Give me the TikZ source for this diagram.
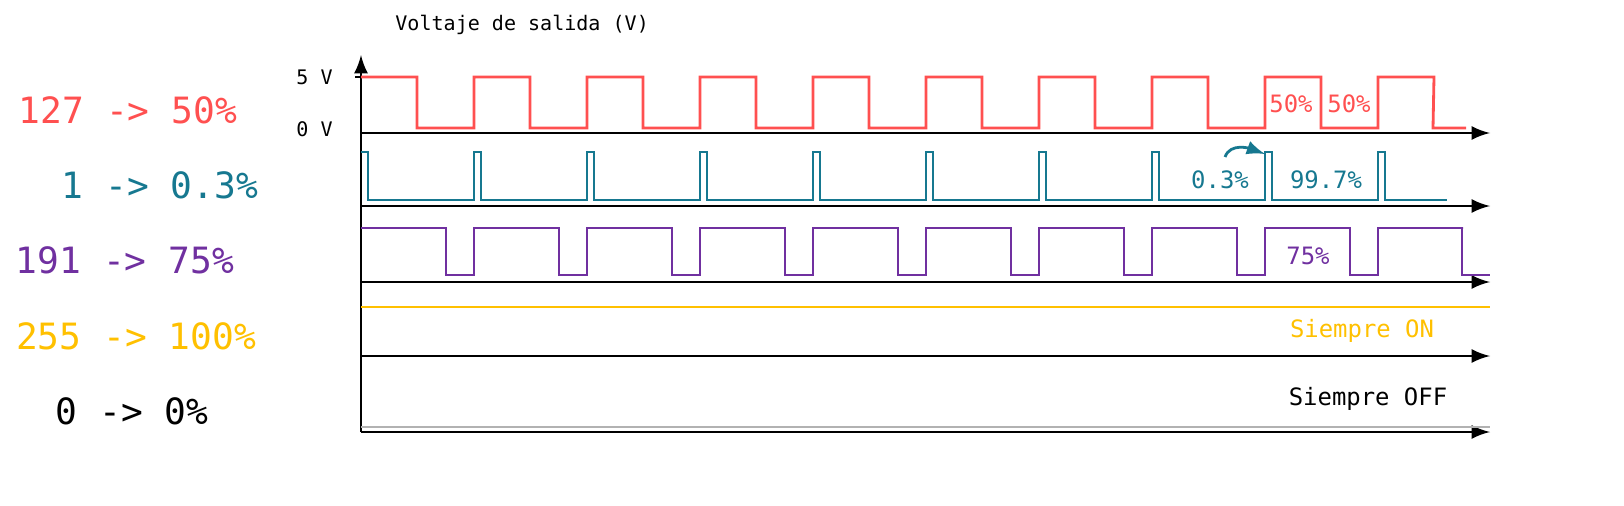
\documentclass[tikz,border=0pt]{standalone}
\usepackage{fontspec}
\setmainfont{DejaVu Sans Mono}
\usepackage{tikz}
\definecolor{pwmred}{HTML}{FF5050}
\definecolor{pwmblue}{HTML}{167890}
\definecolor{pwmpurple}{HTML}{7030A0}
\definecolor{pwmyellow}{HTML}{FFC000}
\begin{document}
\begin{tikzpicture}[x=0.01cm, y=-0.01cm,
  axis/.style={thick, -latex},
  sig/.style={thick, line join=miter},
  big/.style={font=\fontsize{10.3}{12}\selectfont},
  small/.style={font=\fontsize{5.7}{7}\selectfont},
  mid/.style={font=\fontsize{6.8}{8}\selectfont}]
  \useasboundingbox (0,0) rectangle (1624,506);

  % labels on the left
  \node[big, text=pwmred] (l127) at (128,110) {127 -> 50\%};
  \node[big, text=pwmblue] (l1) at (160,185) {1 -> 0.3\%};
  \node[big, text=pwmpurple] (l191) at (125,260) {191 -> 75\%};
  \node[big, text=pwmyellow] (l255) at (136,336) {255 -> 100\%};
  \node[big] (l0) at (132,411) {0 -> 0\%};

  % axes
  \coordinate (o) at (361,432);
  \coordinate (top) at (361,55);
  \draw[axis] (o) -- (top);
  \node[small, anchor=south west] (ylab) at (383,47) {Voltaje de salida (V)};
  \node[small, anchor=east] (v5) at (345,77) {5 V};
  \node[small, anchor=east] (v0) at (345,129) {0 V};
  \draw (355,77) -- (361,77);
  \foreach \y in {133,206,282,356,432}
    \draw[axis] (361,\y) -- (1490,\y);

  % 50%
  \draw[sig, pwmred] (361,77) -- (417,77)
    \foreach \k in {0,...,8} {
      -- ({417+113*\k},128) -- ({474+113*\k},128) -- ({474+113*\k},77) -- ({530+113*\k},77) }
    -- (1433,128) -- (1466,128);
  \node[mid, text=pwmred] (p50a) at (1291,104) {50\%};
  \node[mid, text=pwmred] (p50b) at (1349,104) {50\%};

  % 0.3%
  \draw[sig, pwmblue] (361,152) -- (368,152) -- (368,200)
    \foreach \k in {0,...,8} {
      -- ({474+113*\k},200) -- ({474+113*\k},152) -- ({481+113*\k},152) -- ({481+113*\k},200) }
    -- (1447,200);
  \node[mid, text=pwmblue] (p03) at (1220,180) {0.3\%};
  \node[mid, text=pwmblue] (p997) at (1326,180) {99.7\%};
  \coordinate (arra) at (1225,157);
  \coordinate (arrb) at (1265,154);
  \draw[thick, pwmblue, -latex] (arra) to[out=70, in=160] (arrb);

  % 75%
  \draw[sig, pwmpurple] (361,228) -- (446,228)
    \foreach \k in {0,...,8} {
      -- ({446+113*\k},275) -- ({474+113*\k},275) -- ({474+113*\k},228) -- ({559+113*\k},228) }
    -- (1462,228) -- (1462,275) -- (1490,275);
  \node[mid, text=pwmpurple] (p75) at (1308,256) {75\%};

  % 100% and 0%
  \draw[sig, pwmyellow] (361,307) -- (1490,307);
  \node[mid, text=pwmyellow] (on) at (1362,331) {Siempre ON};
  \draw[thick, gray!60] (361,427) -- (1490,427);
  \node[mid] (off) at (1368,399) {Siempre OFF};
\end{tikzpicture}
\end{document}
